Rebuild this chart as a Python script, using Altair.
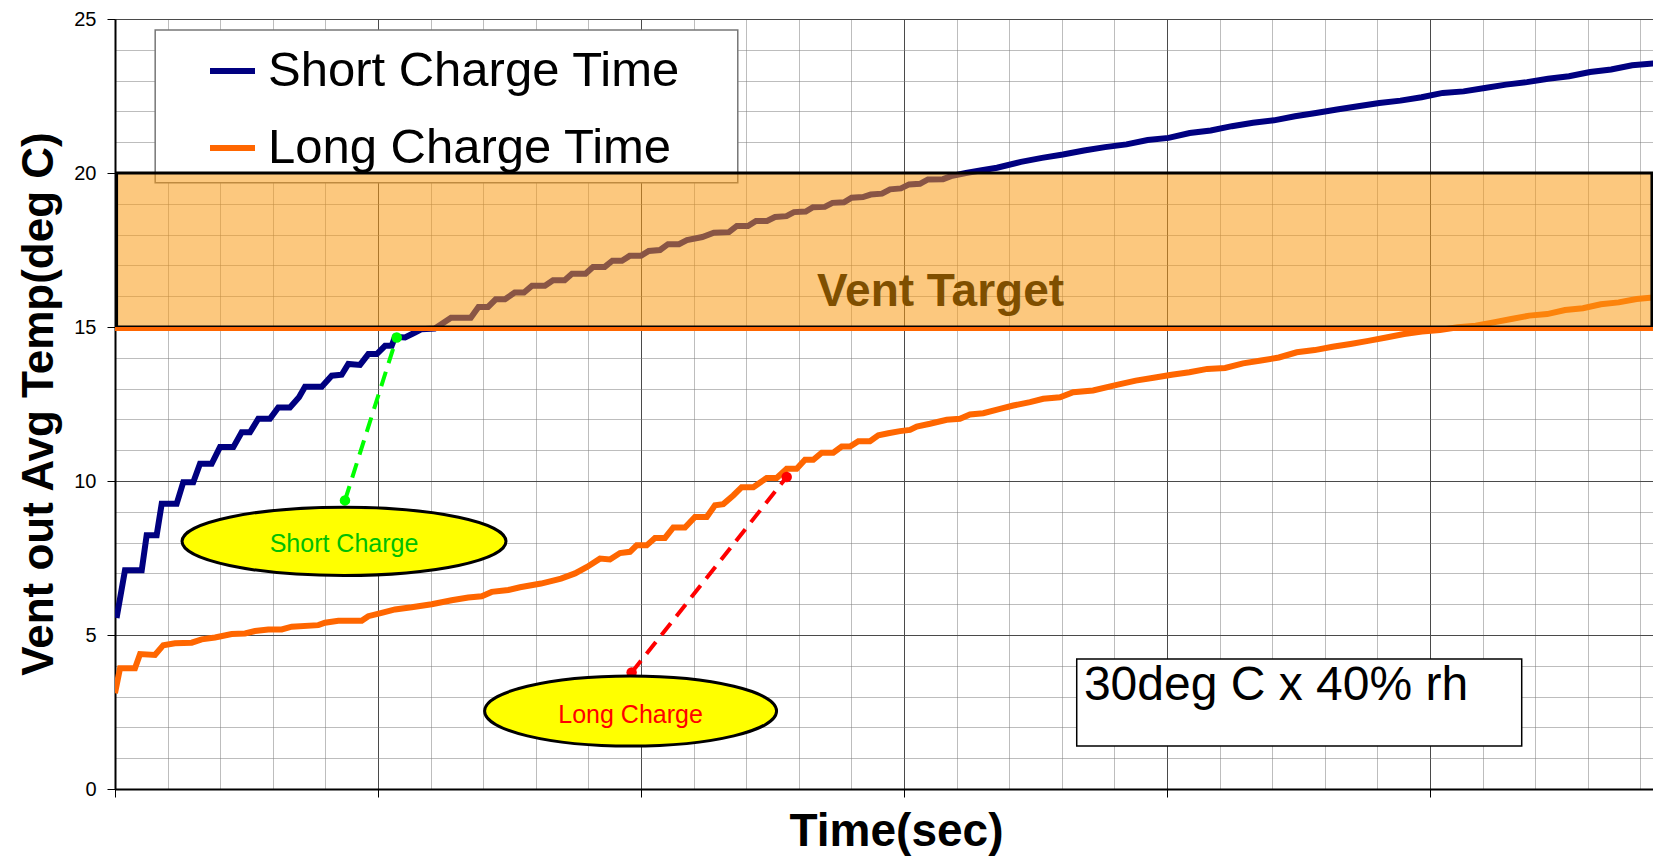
import altair as alt
import pandas as pd

FONT = "Liberation Sans"

# ---------------- data ----------------
series_names = ["Short Charge Time", "Long Charge Time"]
series_colors = ["#000080", "#FF6600"]

# (time in s, vent-out average temperature in deg C)
short_charge = [
    (1.5, 5.55), (9.5, 7.1), (25.4, 7.1), (30.1, 8.24), (39.6, 8.24), (44.4, 9.26), (58.6, 9.26),
    (64.9, 9.96), (74.4, 9.96), (80.8, 10.56), (91.9, 10.56), (99.8, 11.1), (112.5, 11.1),
    (120.4, 11.58), (128.3, 11.58), (136.2, 12.02), (147.3, 12.02), (155.2, 12.39), (166.3, 12.39),
    (174.9, 12.72), (180.6, 13.06), (196.5, 13.06), (206, 13.42), (215.5, 13.45), (221.8, 13.8),
    (232.9, 13.77), (240.8, 14.12), (248.8, 14.12), (256.7, 14.39), (263, 14.39), (266.2, 14.68),
    (275.7, 14.66), (285.2, 14.82), (291.5, 14.93), (304, 14.95), (319.4, 15.3), (338.2, 15.3),
    (345.5, 15.65), (354.6, 15.65), (361.9, 15.9), (370.7, 15.9), (380, 16.12), (388.8, 16.12),
    (396.4, 16.34), (408.7, 16.34), (416.4, 16.52), (427.4, 16.52), (434.4, 16.73), (447.3, 16.73),
    (454.4, 16.95), (465.5, 16.95), (472.8, 17.15), (481.9, 17.15), (489.2, 17.31), (500, 17.31),
    (507.4, 17.47), (518.1, 17.5), (525.7, 17.69), (536.1, 17.69), (543.7, 17.82), (558.3, 17.92),
    (569.2, 18.06), (583.6, 18.08), (591.1, 18.28), (601.7, 18.28), (609.3, 18.44), (619.8, 18.44),
    (627.4, 18.57), (638.3, 18.6), (645.4, 18.73), (656.6, 18.75), (663.5, 18.89), (674.7, 18.9),
    (682, 19.03), (693, 19.05), (700.2, 19.2), (711, 19.22), (718.4, 19.3), (729.1, 19.33),
    (736.7, 19.47), (747.1, 19.5), (754.8, 19.63), (765.2, 19.65), (772.8, 19.79), (787.1, 19.8),
    (794.7, 19.9), (808.9, 20.0), (823.9, 20.09), (838.4, 20.17), (861.2, 20.36), (881.2, 20.49),
    (901.1, 20.6), (921.1, 20.73), (941.1, 20.84), (961.5, 20.93), (981.6, 21.07), (1001.5, 21.14),
    (1021.6, 21.3), (1041.6, 21.38), (1061.7, 21.52), (1081.8, 21.63), (1101.7, 21.71),
    (1121.7, 21.84), (1141.6, 21.95), (1161.6, 22.06), (1181.6, 22.17), (1201.9, 22.27),
    (1221.9, 22.35), (1242, 22.46), (1262.1, 22.6), (1282, 22.65), (1302.1, 22.76), (1322.2, 22.87),
    (1342.2, 22.95), (1362.2, 23.06), (1382.2, 23.14), (1402.2, 23.28), (1422.2, 23.36),
    (1442.2, 23.5), (1466, 23.57),
]

long_charge = [
    (0, 3.11), (4.8, 3.92), (19, 3.92), (23.8, 4.38), (38, 4.35), (45.9, 4.67), (57, 4.73),
    (72.9, 4.75), (82.4, 4.86), (95.1, 4.92), (110.9, 5.03), (123.6, 5.05), (133.1, 5.13),
    (145.7, 5.18), (158.5, 5.18), (168, 5.27), (193.3, 5.32), (199.6, 5.4), (212.3, 5.46),
    (234.5, 5.46), (240.8, 5.61), (253.5, 5.72), (266.2, 5.83), (282, 5.9), (301, 6.0), (320, 6.13),
    (335.8, 6.22), (348.6, 6.26), (358.1, 6.4), (373.9, 6.46), (385, 6.55), (405, 6.67), (424, 6.83),
    (437.3, 7.0), (448.7, 7.21), (461, 7.48), (470.5, 7.45), (480, 7.66), (489.5, 7.7), (495.9, 7.91),
    (505.4, 7.91), (513.3, 8.15), (522.8, 8.15), (530.7, 8.49), (541.8, 8.49), (551.3, 8.83),
    (562.5, 8.83), (570.3, 9.21), (578.2, 9.25), (587.7, 9.53), (595.7, 9.8), (606.8, 9.8),
    (619.5, 10.1), (629, 10.1), (638.5, 10.4), (648, 10.4), (655.9, 10.69), (663.8, 10.69),
    (671.8, 10.92), (682.8, 10.92), (690.8, 11.12), (698.7, 11.12), (706.6, 11.29), (717.7, 11.29),
    (725.6, 11.48), (735.1, 11.55), (746.2, 11.62), (755.7, 11.66), (762.1, 11.77), (774.7, 11.86),
    (790.6, 11.99), (803.2, 12.02), (812.7, 12.16), (825.4, 12.2), (841.3, 12.34), (853.9, 12.45),
    (869.8, 12.56), (882.4, 12.67), (898.3, 12.72), (910.9, 12.88), (929.7, 12.94), (953.3, 13.13),
    (970.3, 13.26), (987.3, 13.35), (1004.4, 13.45), (1021.3, 13.53), (1038.3, 13.64),
    (1055.3, 13.67), (1072.3, 13.82), (1089.4, 13.91), (1106.4, 14.01), (1123.4, 14.18),
    (1140.4, 14.25), (1157.4, 14.36), (1174.4, 14.45), (1191.3, 14.55), (1208.4, 14.66),
    (1225.4, 14.77), (1242.4, 14.85), (1259.4, 14.9), (1276.4, 14.99), (1293.4, 15.04),
    (1310.4, 15.15), (1327.3, 15.26), (1344.4, 15.37), (1361.4, 15.42), (1378.4, 15.55),
    (1395.4, 15.61), (1412.4, 15.74), (1429.4, 15.8), (1446.4, 15.91), (1466, 15.97),
]

x_domain = [0, 1462]
y_domain = [0, 25]
x_ticks = list(range(0, 1451, 50))      # minor grid every 50 s, major every 250 s
y_ticks = list(range(0, 26))            # minor grid every 1, labels every 5

vent_target = [15, 20]
vent_target_x = [1.5, 1461]
vent_label = ["Vent Target", 784.7, 16.13]

legend_box = [38.2, 592, 19.68, 24.64]
cond_box = [914.2, 1337.2, 1.40, 4.22]
cond_text = ["30deg C x 40% rh", 921, 3.36]

callout_labels = ["Short Charge", "Long Charge"]
callout_center_t = [217.7, 490.1]
callout_center_y = [8.04, 2.53]
callout_text_y = [7.97, 2.41]
callout_text_colors = ["#00C000", "#FF0000"]
callout_line_colors = ["#00FF00", "#FF0000"]
callout_from = [(218.6, 9.37), (491.1, 3.78)]
callout_to = [(267.8, 14.66), (638.5, 10.13)]

# ---------------- frames ----------------
rows = []
for name, pts in zip(series_names, [short_charge, long_charge]):
    for i, (t, y) in enumerate(pts):
        rows.append({"series": name, "t": t, "y": y, "i": i})
lines_df = pd.DataFrame(rows)

band_df = pd.DataFrame([{"t": vent_target_x[0], "t2": vent_target_x[1],
                         "y": vent_target[0], "y2": vent_target[1]}])
low_df = pd.DataFrame([{"t": x_domain[0], "t2": x_domain[1], "y": vent_target[0]}])
vent_df = pd.DataFrame([{"label": vent_label[0], "t": vent_label[1], "y": vent_label[2]}])
legbox_df = pd.DataFrame([{"t": legend_box[0], "t2": legend_box[1], "y": legend_box[2], "y2": legend_box[3]}])
condbox_df = pd.DataFrame([{"t": cond_box[0], "t2": cond_box[1], "y": cond_box[2], "y2": cond_box[3]}])
condtext_df = pd.DataFrame([{"label": cond_text[0], "t": cond_text[1], "y": cond_text[2]}])

conn_rows = []
for k in range(2):
    for (t, y) in (callout_from[k], callout_to[k]):
        conn_rows.append({"k": k, "t": t, "y": y, "c": callout_line_colors[k]})
conn_df = pd.DataFrame(conn_rows)

ell_df = [pd.DataFrame([{"t": callout_center_t[k], "y": callout_center_y[k]}]) for k in range(2)]
lab_df = pd.DataFrame([{"label": callout_labels[k], "t": callout_center_t[k],
                        "y": callout_text_y[k], "c": callout_text_colors[k]} for k in range(2)])

# ---------------- scales & axes ----------------
XS = alt.Scale(domain=x_domain, nice=False, zero=False)
YS = alt.Scale(domain=y_domain, nice=False)

major_x = "datum.value % 250 === 0"
major_y = "datum.value % 5 === 0"

x_axis = alt.Axis(
    values=x_ticks, labels=False, title="Time(sec)",
    titleFont=FONT, titleFontSize=46, titleFontWeight="bold", titleColor="black",
    titleX=781, titleY=56, titleAlign="center", titleBaseline="alphabetic",
    domainColor="black", domainWidth=2,
    tickColor="black", tickSize=8, tickWidth=1,
    tickOpacity={"condition": {"test": major_x, "value": 1}, "value": 0},
    grid=True,
    gridColor={"condition": {"test": major_x, "value": "#4a4a4a"}, "value": "#7a7a7a"},
    gridDash={"condition": {"test": major_x, "value": []}, "value": [1, 1]},
    gridWidth=1,
)
y_axis = alt.Axis(
    values=y_ticks, title="Vent out  Avg Temp(deg C)",
    labelExpr="datum.value % 5 === 0 ? datum.label : ''",
    labelFont=FONT, labelFontSize=20, labelColor="black", labelPadding=11,
    titleFont=FONT, titleFontSize=44, titleFontWeight="bold", titleColor="black",
    titleAngle=270, titleX=-63, titleY=384.5, titleAlign="center", titleBaseline="alphabetic",
    domainColor="black", domainWidth=2,
    tickColor="black", tickSize=8, tickWidth=1,
    tickOpacity={"condition": {"test": major_y, "value": 1}, "value": 0},
    grid=True,
    gridColor={"condition": {"test": major_y, "value": "#4a4a4a"}, "value": "#7a7a7a"},
    gridDash={"condition": {"test": major_y, "value": []}, "value": [1, 1]},
    gridWidth=1,
)

# every layer carries the identical axis definition so they merge into one
def X(field="t"):
    return alt.X(f"{field}:Q", scale=XS, axis=x_axis)

def Y(field="y"):
    return alt.Y(f"{field}:Q", scale=YS, axis=y_axis)

# ---------------- layers ----------------
legbox = alt.Chart(legbox_df).mark_rect(fill="white", stroke="#777777", strokeWidth=1.5).encode(
    x=X(), x2="t2:Q", y=Y(), y2="y2:Q")

condbox = alt.Chart(condbox_df).mark_rect(fill="white", stroke="black", strokeWidth=1.5).encode(
    x=X(), x2="t2:Q", y=Y(), y2="y2:Q")
condtext = alt.Chart(condtext_df).mark_text(
    font=FONT, fontSize=48, color="black", align="left", baseline="middle").encode(
    x=X(), y=Y(), text="label:N")

lines = alt.Chart(lines_df).mark_line(strokeWidth=6, clip=True).encode(
    x=X(), y=Y(),
    color=alt.Color("series:N", scale=alt.Scale(domain=series_names, range=series_colors),
                    legend=alt.Legend(title=None, orient="none", legendX=92, legendY=26.5,
                                      symbolType="stroke", symbolSize=2025, symbolStrokeWidth=6,
                                      labelFont=FONT, labelFontSize=49, labelColor="black",
                                      labelOffset=10, rowPadding=26, padding=0, labelLimit=0)),
    order="i:Q",
)

band = alt.Chart(band_df).mark_rect(fill="#FA9B14", fillOpacity=0.55, stroke="black",
                                    strokeWidth=3).encode(x=X(), x2="t2:Q", y=Y(), y2="y2:Q")
low_line = alt.Chart(low_df).mark_rule(color="#FF6600", strokeWidth=4, yOffset=2).encode(
    x=X(), x2="t2:Q", y=Y())
vent_text = alt.Chart(vent_df).mark_text(font=FONT, fontSize=46, fontWeight="bold",
                                         color="#7F4F00", align="center", baseline="middle").encode(
    x=X(), y=Y(), text="label:N")

conn = alt.Chart(conn_df).mark_line(strokeWidth=4, strokeDash=[15, 9]).encode(
    x=X(), y=Y(), detail="k:N", color=alt.Color("c:N", scale=None))
dots = alt.Chart(conn_df).mark_circle(size=110, opacity=1).encode(
    x=X(), y=Y(), color=alt.Color("c:N", scale=None))

def ellipse_path(b):
    k = 0.5523
    kb = round(k * b, 4)
    return (f"M -1 0 C -1 {-kb} {-k} {-b} 0 {-b} C {k} {-b} 1 {-kb} 1 0 "
            f"C 1 {kb} {k} {b} 0 {b} C {-k} {b} -1 {kb} -1 0 Z")

ell_short = alt.Chart(ell_df[0]).mark_point(
    shape=ellipse_path(0.211), size=(2 * 162) ** 2, filled=True, fill="#FFFF00",
    stroke="black", strokeWidth=3, opacity=1, fillOpacity=1, strokeOpacity=1).encode(x=X(), y=Y())
ell_long = alt.Chart(ell_df[1]).mark_point(
    shape=ellipse_path(0.24), size=(2 * 146) ** 2, filled=True, fill="#FFFF00",
    stroke="black", strokeWidth=3, opacity=1, fillOpacity=1, strokeOpacity=1).encode(x=X(), y=Y())
ell_text = alt.Chart(lab_df).mark_text(font=FONT, fontSize=25, align="center", baseline="middle").encode(
    x=X(), y=Y(), text="label:N", color=alt.Color("c:N", scale=None))

chart = alt.layer(
    legbox, condbox, condtext, lines, band, low_line, vent_text, conn, dots,
    ell_short, ell_long, ell_text,
).properties(
    width=1538, height=770,
    autosize=alt.AutoSizeParams(type="none"),
    padding={"left": 107, "top": 11, "right": 0, "bottom": 68},
).configure_view(stroke="#707070", strokeWidth=1).configure(background="white")

chart.save("out.html", embed_options={"renderer": "svg", "actions": False})
